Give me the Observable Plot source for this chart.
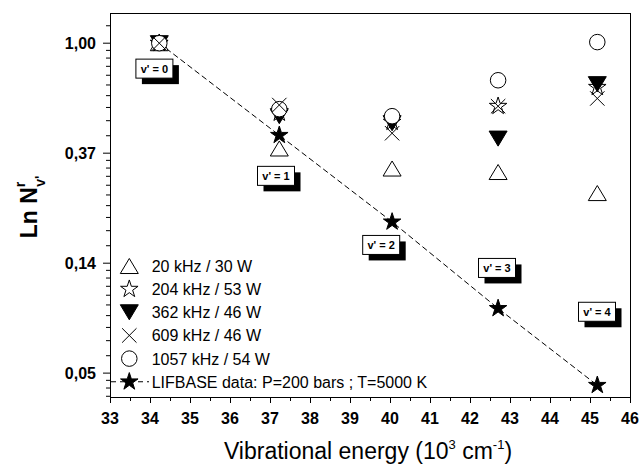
<!DOCTYPE html>
<html><head><meta charset="utf-8">
<script src="https://cdn.jsdelivr.net/npm/d3@7"></script>
<script src="https://cdn.jsdelivr.net/npm/@observablehq/plot@0.6"></script>
<style>
body{margin:0;background:#fff}
svg{overflow:visible}
</style></head><body><div id="chart"></div>
<script>
// ---- data ----
const energies = [34.22, 37.22, 40.04, 42.69, 45.17];           // 10^3 cm^-1
const seriesNames = ["20 kHz / 30 W", "204 kHz / 53 W", "362 kHz / 46 W", "609 kHz / 46 W", "1057 kHz / 54 W", "LIFBASE data: P=200 bars ; T=5000 K"];
const f20   = [1.00, 0.384, 0.320, 0.310, 0.256];
const f204  = [1.00, 0.530, 0.488, 0.564, 0.670];
const f362  = [1.00, 0.515, 0.483, 0.420, 0.689];
const f609  = [1.00, 0.570, 0.441, 0.564, 0.605];
const f1057 = [1.00, 0.549, 0.515, 0.714, 1.010];
const lifbase = [1.00, 0.433, 0.197, 0.0897, 0.0446];
const levelLabels = ["v' = 0", "v' = 1", "v' = 2", "v' = 3", "v' = 4"];
const labelX = [34.11, 37.15, 39.78, 42.675, 45.175];
const labelY = [0.79, 0.298, 0.159, 0.129, 0.0866];
const xTicks = [33,34,35,36,37,38,39,40,41,42,43,44,45,46];
const yTicks = [0.0498, 0.1353, 0.3679, 1.0];
const yTickLabels = ["0,05", "0,14", "0,37", "1,00"];

// ---- symbols ----
const sym = f => ({draw(c, size) { f(c, Math.sqrt(size / Math.PI)); }});
const triUp = sym((c, r) => { const w = r * 1.125, h = r * 0.94; c.moveTo(0, -h); c.lineTo(w, h); c.lineTo(-w, h); c.closePath(); });
const triDown = sym((c, r) => { const w = r * 1.125, h = r * 0.94; c.moveTo(0, h); c.lineTo(w, -h); c.lineTo(-w, -h); c.closePath(); });
const times = sym((c, r) => { const k = r * 0.9; c.moveTo(-k, -k); c.lineTo(k, k); c.moveTo(k, -k); c.lineTo(-k, k); });
const ring = sym((c, r) => { const a = r * 0.97; c.moveTo(a, 0); c.arc(0, 0, a, 0, 2 * Math.PI); });
const star = sym((c, r) => {
  const R = r * 1.15, ri = R * 0.382;
  for (let i = 0; i < 10; i++) {
    const ang = -Math.PI / 2 + i * Math.PI / 5, rr = i % 2 ? ri : R;
    const x = rr * Math.cos(ang), y = rr * Math.sin(ang);
    i ? c.lineTo(x, y) : c.moveTo(x, y);
  }
  c.closePath();
});

const rows = vals => energies.map((e, i) => ({e, v: vals[i]}));
const xMinor = xTicks.slice(0, -1).map(d => d + 0.5);
const yMinor = [];
for (let n = -4; n <= 0; n++) {
  const a = Math.exp(n), b = Math.exp(n + 1);
  for (let i = 1; i < 10; i++) yMinor.push(a + i * (b - a) / 10);
}
const yDomain = [0.0399, 1.31];
const yMinorIn = yMinor.filter(d => d > yDomain[0] && d < yDomain[1]);

const FONT = "'Liberation Sans', Arial, sans-serif";
const dotOpts = {x: "e", y: "v", r: 8, stroke: "black", strokeWidth: 1};

const chart = Plot.plot({
  width: 642, height: 468,
  marginLeft: 110, marginRight: 12, marginTop: 13, marginBottom: 71,
  style: {fontFamily: FONT, color: "black", background: "white"},
  x: {domain: [33, 46]},
  y: {type: "log", domain: yDomain},
  marks: [
    Plot.line(rows(lifbase), {x: "e", y: "v", stroke: "black", strokeWidth: 1, strokeDasharray: "5,4"}),
    Plot.dot(rows(f20), {...dotOpts, symbol: triUp, fill: "white"}),
    Plot.dot(rows(f204), {...dotOpts, symbol: star, fill: "white"}),
    Plot.dot(rows(f362), {...dotOpts, symbol: triDown, fill: "black"}),
    Plot.dot(rows(lifbase), {...dotOpts, symbol: star, fill: "black"}),
    Plot.dot(rows(f1057), {...dotOpts, symbol: ring, fill: "white"}),
    Plot.dot(rows(f609), {...dotOpts, symbol: times, fill: "none"}),
    Plot.frame({stroke: "black", strokeWidth: 1}),
    Plot.axisX({ticks: xTicks, tickSize: 6, tickFormat: () => "", label: null}),
    Plot.axisX({ticks: xMinor, tickSize: 4, tickFormat: () => "", label: null}),
    Plot.axisY({ticks: yTicks, tickSize: 7, tickFormat: () => "", label: null}),
    Plot.axisY({ticks: yMinorIn, tickSize: 4, tickFormat: () => "", label: null})
  ]
});
document.getElementById("chart").appendChild(chart);

const svg = d3.select(chart);
const xs = chart.scale("x"), ys = chart.scale("y");
const pathOf = (s) => { const p = d3.path(); s.draw(p, Math.PI * 64); return p.toString(); };

// tick labels, positioned through the plot's scales
const tl = svg.append("g").attr("font-family", FONT).attr("font-size", 16).attr("font-weight", "bold").attr("fill", "black");
xTicks.forEach(d => {
  tl.append("text").attr("x", xs.apply(d)).attr("y", 424).attr("text-anchor", "middle")
    .style("font-weight", "bold").style("font-size", "16px").text(String(d));
});
yTicks.forEach((d, i) => {
  tl.append("text").attr("x", 96).attr("y", ys.apply(d) + 6).attr("text-anchor", "end")
    .style("font-weight", "bold").style("font-size", "16px").text(yTickLabels[i]);
});

// level labels (boxes with drop shadow)
levelLabels.forEach((t, i) => {
  const cx = xs.apply(labelX[i]), cy = ys.apply(labelY[i]);
  const w = 37, h = 19;
  const g = svg.append("g").attr("transform", `translate(${cx - w / 2},${cy - h / 2})`);
  g.append("rect").attr("x", 6).attr("y", 6).attr("width", w).attr("height", h).attr("fill", "black");
  g.append("rect").attr("x", 0).attr("y", 0).attr("width", w).attr("height", h).attr("fill", "white").attr("stroke", "black").attr("stroke-width", 1);
  g.append("text").attr("x", w / 2).attr("y", h / 2 + 4).attr("text-anchor", "middle")
    .attr("font-family", FONT).attr("font-size", 11).attr("font-weight", "bold").text(t);
});

// legend
const legendSyms = [
  {s: triUp, fill: "white"}, {s: star, fill: "white"}, {s: triDown, fill: "black"},
  {s: times, fill: "none"}, {s: ring, fill: "white"}, {s: star, fill: "black", line: true}
];
const lg = svg.append("g");
seriesNames.forEach((name, i) => {
  const y = 266 + i * 23.15, sx = 129.3;
  const ls = legendSyms[i];
  if (ls.line) lg.append("line").attr("x1", 111).attr("x2", 149).attr("y1", y).attr("y2", y)
      .attr("stroke", "black").attr("stroke-dasharray", "5,4");
  lg.append("path").attr("d", pathOf(ls.s)).attr("transform", `translate(${sx},${y})`)
    .attr("fill", ls.fill).attr("stroke", "black").attr("stroke-width", 1);
  lg.append("text").attr("x", 151.7).attr("y", y + 6).attr("text-anchor", "start")
    .attr("font-family", FONT).attr("font-size", 16).text(name);
});

// axis titles
const xt = svg.append("text").attr("x", 368).attr("y", 459).attr("text-anchor", "middle")
  .attr("font-family", FONT).attr("font-size", 23);
xt.append("tspan").text("Vibrational energy (10");
xt.append("tspan").attr("dy", -10).attr("font-size", 13).text("3");
xt.append("tspan").attr("dy", 10).text(" cm");
xt.append("tspan").attr("dy", -10).attr("font-size", 13).text("-1");
xt.append("tspan").attr("dy", 10).text(")");

const yt = svg.append("text").attr("transform", "translate(37,207) rotate(-90)").attr("text-anchor", "middle")
  .attr("font-family", FONT).attr("font-size", 23).attr("font-weight", "bold");
yt.append("tspan").text("Ln N");
yt.append("tspan").attr("dy", -12).attr("font-size", 14).text("r");
yt.append("tspan").attr("dx", -5).attr("dy", 20).attr("font-size", 14).text("v'");
</script>
</body></html>
